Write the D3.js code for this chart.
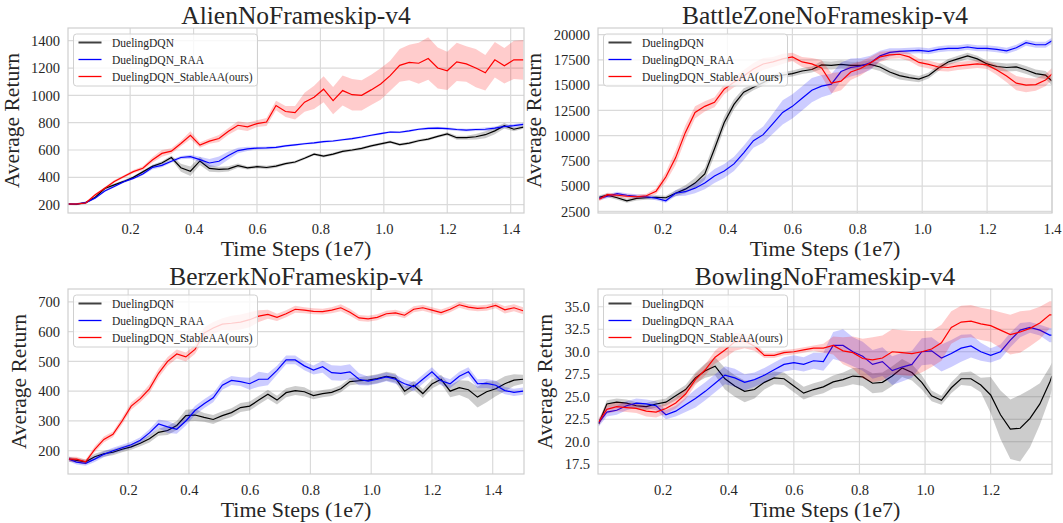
<!DOCTYPE html>
<html>
<head>
<meta charset="utf-8">
<script src="https://d3js.org/d3.v7.min.js"></script>
<style>
    body { margin: 0; background: #fff; }
    text { font-family: "Liberation Serif", "Times New Roman", serif; fill: #262626; }
    .grid line { stroke: #dadada; stroke-width: 1.2; }
    .frame { fill: none; stroke: #cfcfcf; stroke-width: 1.2; }
</style>
</head>
<body>
<script>
var width = 1063, height = 523;

var methods = ["DuelingDQN", "DuelingDQN_RAA", "DuelingDQN_StableAA(ours)"];
var colors = ["#000000", "#0000ff", "#ff0000"];

// ---- Alien ----
var alienSteps = [0.005,0.03,0.06,0.09,0.12,0.15,0.18,0.21,0.24,0.27,0.30,0.33,0.36,0.39,0.42,0.45,0.48,0.51,0.54,0.57,0.60,0.63,0.66,0.69,0.72,0.75,0.78,0.81,0.84,0.87,0.90,0.93,0.96,0.99,1.02,1.05,1.08,1.11,1.14,1.17,1.20,1.23,1.26,1.29,1.32,1.35,1.38,1.41,1.44];
var alienDQN = [205,203,215,255,318,345,370,400,440,480,505,545,470,445,520,465,458,462,486,470,478,472,482,500,512,540,570,555,570,590,600,612,630,645,660,640,650,668,680,700,718,690,690,697,712,740,778,752,768];
var alienDQNBand = [8,8,8,10,10,10,10,10,10,12,12,15,30,35,30,25,20,20,15,12,12,12,12,10,10,10,10,10,10,10,10,10,10,10,10,10,10,10,10,10,12,15,15,20,25,25,20,15,12];
var alienRAA = [205,205,215,248,300,333,368,392,425,472,488,518,545,551,530,505,518,560,596,608,614,616,620,630,638,646,652,661,666,675,684,695,708,720,732,730,740,752,758,760,757,750,745,750,752,760,772,778,788];
var alienRAABand = [6,6,6,8,8,8,8,8,10,15,15,12,12,15,20,30,35,30,20,15,10,10,10,8,8,8,8,8,8,8,8,8,8,8,8,8,8,8,10,10,10,10,10,10,12,12,12,12,12];
var alienStable = [205,205,212,273,321,370,406,442,466,527,575,592,648,708,636,665,684,737,781,769,793,805,926,882,873,950,986,1045,962,1035,1005,1000,1040,1083,1144,1220,1241,1235,1270,1200,1180,1245,1230,1200,1165,1260,1216,1260,1260];
var alienStableBand = [8,8,8,8,8,10,10,12,15,20,25,20,20,30,20,20,25,25,30,30,25,30,35,40,50,70,85,95,100,110,115,110,110,115,110,120,130,150,155,150,140,140,130,140,130,130,130,140,145];
var alienYTicks = [200,400,600,800,1000,1200,1400];

// ---- BattleZone ----
var battleSteps = [0.005,0.03,0.06,0.09,0.12,0.15,0.18,0.21,0.24,0.27,0.30,0.33,0.36,0.39,0.42,0.45,0.48,0.51,0.54,0.57,0.60,0.63,0.66,0.69,0.72,0.75,0.78,0.81,0.84,0.87,0.90,0.93,0.96,0.99,1.02,1.05,1.08,1.11,1.14,1.17,1.20,1.23,1.26,1.29,1.32,1.35,1.38,1.40];
var battleDQN = [3900,4100,3850,3550,3780,3850,3900,3850,4300,4700,5300,6200,8700,11300,13100,14300,14800,15250,15750,16000,16150,16400,16550,17000,16950,17050,16950,16950,17050,16800,16300,15950,15750,15600,15950,16700,17300,17600,17900,17600,17100,16850,16750,16800,16500,16150,16000,15400];
var battleDQNBand = [200,200,200,200,200,200,200,200,300,400,500,600,700,600,500,400,300,300,300,300,300,300,300,400,400,400,400,400,400,400,400,400,350,300,300,300,300,300,300,300,300,400,400,400,400,400,400,400];
var battleRAA = [3800,4000,4250,4100,4000,3950,3800,3550,4300,4450,4800,5300,6000,6500,7200,8300,9500,10100,11200,12300,12900,13700,14500,14900,15100,16350,16750,16900,17200,17900,18250,18350,18400,18450,18350,18550,18650,18650,18780,18650,18650,18550,18400,18700,19200,19000,19000,19400];
var battleRAABand = [200,200,200,200,200,200,200,200,300,400,500,600,700,700,700,700,700,800,1000,1200,1200,1200,1200,1100,1000,900,900,800,700,500,400,300,300,300,300,300,300,300,300,300,300,300,300,300,300,300,300,300];
var battleStable = [3700,4150,4100,4000,3950,4050,4500,5900,7800,10300,12300,12900,13300,14600,15300,15900,16600,17100,17300,17600,17800,17300,17100,16700,15200,15400,16300,16650,17200,17800,18000,18060,17800,17250,17050,16800,16750,16900,17000,17100,17000,16500,15900,15200,15000,15050,15500,16100];
var battleStableBand = [200,200,200,200,200,200,300,500,700,700,600,500,500,500,500,600,600,600,500,500,400,500,600,800,1000,900,800,700,600,500,400,400,400,400,400,400,400,400,400,400,400,500,600,700,700,600,600,600];
var battleYTicks = [2500,5000,7500,10000,12500,15000,17500,20000];

// ---- Berzerk ----
var berzerkSteps = [0.005,0.03,0.06,0.09,0.12,0.15,0.18,0.21,0.24,0.27,0.30,0.33,0.36,0.39,0.42,0.45,0.48,0.51,0.54,0.57,0.60,0.63,0.66,0.69,0.72,0.75,0.78,0.81,0.84,0.87,0.90,0.93,0.96,0.99,1.02,1.05,1.08,1.11,1.14,1.17,1.20,1.23,1.26,1.29,1.32,1.35,1.38,1.41,1.44,1.47,1.50];
var berzerkDQN = [172,168,163,180,190,195,205,213,225,240,262,268,285,318,320,312,305,318,328,345,350,370,390,370,395,402,398,385,392,396,408,432,435,437,442,450,444,400,420,392,424,440,400,412,405,380,398,408,425,437,440];
var berzerkDQNBand = [8,8,8,10,10,10,10,10,10,12,12,15,15,20,20,15,15,15,15,15,15,15,15,15,15,15,15,12,12,12,12,12,12,15,15,15,15,15,15,15,15,15,20,25,30,35,35,25,25,20,15];
var berzerkRAA = [172,162,158,172,188,200,210,220,235,260,290,280,272,300,335,358,378,420,436,432,425,440,440,470,505,505,485,471,482,462,460,465,440,434,440,448,440,425,415,440,465,435,425,450,465,425,426,420,402,396,400];
var berzerkRAABand = [8,8,8,10,10,10,10,10,10,12,15,20,15,15,15,15,15,15,15,15,20,25,20,15,15,15,15,15,20,25,25,25,20,15,15,15,15,15,15,15,15,15,15,15,15,15,15,15,12,12,12];
var berzerkStable = [172,172,163,205,238,255,300,350,375,408,460,500,525,515,540,595,612,625,628,632,640,652,658,648,660,675,672,668,667,672,680,665,646,643,648,660,663,655,675,680,672,664,675,690,682,678,680,688,673,680,670];
var berzerkStableBand = [8,8,8,10,10,10,12,12,12,15,15,15,15,15,15,20,20,20,25,25,25,20,15,12,12,12,10,10,10,10,12,12,10,10,10,10,10,10,10,10,10,10,10,10,10,10,10,10,12,12,12];
var berzerkYTicks = [200,300,400,500,600,700];

// ---- Bowling ----
var bowlingSteps = [0.005,0.03,0.06,0.09,0.12,0.15,0.18,0.21,0.24,0.27,0.30,0.33,0.36,0.39,0.42,0.45,0.48,0.51,0.54,0.57,0.60,0.63,0.66,0.69,0.72,0.75,0.78,0.81,0.84,0.87,0.90,0.93,0.96,0.99,1.02,1.05,1.08,1.11,1.14,1.17,1.20,1.23,1.26,1.29,1.32,1.35,1.38,1.387];
var bowlingDQN = [22.0,24.2,24.4,24.3,24.0,23.9,24.2,24.4,25.1,25.8,27.1,27.9,28.4,27.0,26.2,25.6,25.8,26.6,27.1,27.0,26.2,25.4,25.8,26.1,26.65,26.9,27.3,27.2,26.5,26.6,27.3,28.2,27.7,26.6,25.1,24.6,26.0,27.0,27.0,26.3,25.2,23.0,21.4,21.5,22.6,24.2,26.6,27.3];
var bowlingDQNBand = [0.3,0.4,0.4,0.4,0.4,0.4,0.4,0.4,0.5,0.5,0.6,0.8,1.0,1.2,1.2,1.2,1.0,0.8,0.7,0.7,0.7,0.7,0.7,0.7,0.7,0.8,0.9,1.0,1.1,1.1,1.1,1.0,0.9,0.8,0.6,0.5,0.6,0.7,0.8,0.8,2.0,2.7,3.3,3.7,3.2,2.3,1.7,1.5];
var bowlingRAA = [22.1,23.3,23.5,24.0,24.3,24.2,24.0,23.0,23.4,24.1,24.8,25.6,26.5,27.4,27.1,26.6,26.9,27.4,28.0,28.6,28.8,28.6,29.0,28.9,30.7,30.7,30.0,29.5,28.6,28.9,27.9,28.3,28.6,30.0,30.1,29.3,29.8,30.4,30.65,30.0,29.6,30.0,31.3,32.4,32.7,32.4,31.85,31.85];
var bowlingRAABand = [0.4,0.5,0.5,0.5,0.5,0.5,0.5,0.5,0.6,0.8,1.0,1.0,1.0,1.0,1.0,0.9,0.8,0.8,0.8,0.8,0.8,0.8,0.9,1.0,1.5,1.8,1.6,1.6,1.6,1.6,1.6,1.6,1.5,1.5,1.5,1.5,1.5,1.5,1.3,1.0,0.8,0.8,0.8,0.8,0.6,0.6,0.8,0.8];
var bowlingStable = [22.2,23.6,23.9,23.8,23.7,23.4,23.3,23.7,24.3,25.3,26.9,28.0,29.4,30.2,31.1,31.2,30.6,29.6,29.6,29.9,30.0,30.2,30.4,30.4,30.7,30.1,29.9,29.25,29.1,29.3,30.0,29.9,29.8,30.0,30.3,31.0,32.7,33.3,33.4,33.1,32.9,32.4,31.9,32.2,32.6,33.2,34.1,34.1];
var bowlingStableBand = [0.4,0.5,0.5,0.5,0.5,0.6,0.6,0.6,0.6,0.6,0.6,0.6,0.7,0.9,1.0,0.8,0.5,0.3,0.3,0.3,0.3,0.3,0.3,0.5,1.0,1.5,1.8,2.2,2.5,2.5,2.5,2.5,2.5,2.3,2.0,2.0,1.8,1.8,1.8,1.8,1.8,2.0,2.2,2.3,2.0,1.8,1.5,1.5];
var bowlingYTicks = [17.5,20.0,22.5,25.0,27.5,30.0,32.5,35.0];

var xTicksLong = [0.2,0.4,0.6,0.8,1.0,1.2,1.4];
var xTicksShort = [0.2,0.4,0.6,0.8,1.0,1.2];

var panels = [
    {title: "AlienNoFrameskip-v4", steps: alienSteps,
     means: [alienDQN, alienRAA, alienStable], bands: [alienDQNBand, alienRAABand, alienStableBand],
     xDomain: [0.004, 1.442], yDomain: [139, 1493], xTicks: xTicksLong, yTicks: alienYTicks, yFmt: "d",
     box: {x: 68, y: 28, w: 456, h: 185}},
    {title: "BattleZoneNoFrameskip-v4", steps: battleSteps,
     means: [battleDQN, battleRAA, battleStable], bands: [battleDQNBand, battleRAABand, battleStableBand],
     xDomain: [0.001, 1.40], yDomain: [2340, 20660], xTicks: xTicksLong, yTicks: battleYTicks, yFmt: "d",
     box: {x: 598, y: 28, w: 454, h: 185}},
    {title: "BerzerkNoFrameskip-v4", steps: berzerkSteps,
     means: [berzerkDQN, berzerkRAA, berzerkStable], bands: [berzerkDQNBand, berzerkRAABand, berzerkStableBand],
     xDomain: [0.002, 1.503], yDomain: [122, 743], xTicks: xTicksLong, yTicks: berzerkYTicks, yFmt: "d",
     box: {x: 68, y: 289, w: 456, h: 185}},
    {title: "BowlingNoFrameskip-v4", steps: bowlingSteps,
     means: [bowlingDQN, bowlingRAA, bowlingStable], bands: [bowlingDQNBand, bowlingRAABand, bowlingStableBand],
     xDomain: [0.003, 1.387], yDomain: [16.42, 36.97], xTicks: xTicksShort, yTicks: bowlingYTicks, yFmt: ".1f",
     box: {x: 598, y: 289, w: 454, h: 185}}
];

var svg = d3.select("body").append("svg")
    .attr("width", width)
    .attr("height", height);

panels.forEach(function(p, pi) {
    var b = p.box;
    var g = svg.append("g").attr("transform", "translate(" + b.x + "," + b.y + ")");

    var x = d3.scaleLinear().domain(p.xDomain).range([0, b.w]);
    var y = d3.scaleLinear().domain(p.yDomain).range([b.h, 0]);

    g.append("clipPath").attr("id", "clip" + pi)
        .append("rect").attr("width", b.w).attr("height", b.h);

    // grid
    var grid = g.append("g").attr("class", "grid");
    grid.selectAll(".gx").data(p.xTicks).enter().append("line")
        .attr("x1", function(d) { return x(d); }).attr("x2", function(d) { return x(d); })
        .attr("y1", 0).attr("y2", b.h);
    grid.selectAll(".gy").data(p.yTicks).enter().append("line")
        .attr("y1", function(d) { return y(d); }).attr("y2", function(d) { return y(d); })
        .attr("x1", 0).attr("x2", b.w);

    // axes
    var xAxis = g.append("g").attr("transform", "translate(0," + b.h + ")")
        .call(d3.axisBottom(x).tickValues(p.xTicks).tickFormat(d3.format(".1f")).tickSize(0).tickPadding(11));
    var yAxis = g.append("g")
        .call(d3.axisLeft(y).tickValues(p.yTicks).tickFormat(d3.format(p.yFmt)).tickSize(0).tickPadding(8));
    [xAxis, yAxis].forEach(function(a) {
        a.select(".domain").remove();
        a.selectAll("text").style("font-size", "14.5px").style("font-family", "Liberation Serif").attr("fill", "#262626");
    });

    // bands and lines
    var plot = g.append("g").attr("clip-path", "url(#clip" + pi + ")");
    methods.forEach(function(m, k) {
        var rows = p.steps.map(function(s, i) {
            return {x: s, m: p.means[k][i], lo: p.means[k][i] - p.bands[k][i], hi: p.means[k][i] + p.bands[k][i]};
        });
        plot.append("path").datum(rows)
            .attr("fill", colors[k]).attr("fill-opacity", 0.2).attr("stroke", "none")
            .attr("d", d3.area().x(function(d) { return x(d.x); })
                .y0(function(d) { return y(d.lo); }).y1(function(d) { return y(d.hi); }));
        plot.append("path").datum(rows)
            .attr("fill", "none").attr("stroke", colors[k]).attr("stroke-width", 1.2)
            .attr("d", d3.line().x(function(d) { return x(d.x); }).y(function(d) { return y(d.m); }));
    });

    g.append("rect").attr("class", "frame").attr("width", b.w).attr("height", b.h);

    // titles
    g.append("text").attr("x", b.w / 2).attr("y", -4).attr("text-anchor", "middle")
        .style("font-size", "25.5px").text(p.title);
    g.append("text").attr("x", b.w / 2).attr("y", b.h + 43).attr("text-anchor", "middle")
        .style("font-size", "22px").text("Time Steps (1e7)");
    var tickW = yAxis.node().getBBox().width;
    g.append("text").attr("transform", "translate(" + (-tickW - 20) + "," + (b.h / 2) + ") rotate(-90)")
        .attr("text-anchor", "middle").attr("dy", "0.35em")
        .style("font-size", "21.5px").text("Average Return");

    // legend
    var lg = g.append("g").attr("transform", "translate(5.5,6)");
    lg.append("rect").attr("width", 184).attr("height", 52).attr("rx", 3)
        .attr("fill", "#fff").attr("fill-opacity", 0.8).attr("stroke", "#d0d0d0");
    methods.forEach(function(m, k) {
        var yy = 8.5 + k * 17;
        lg.append("line").attr("x1", 5).attr("x2", 28).attr("y1", yy).attr("y2", yy)
            .attr("stroke", colors[k]).attr("stroke-width", k === 0 ? 2 : 1.3)
            .attr("stroke-opacity", k === 0 ? 0.75 : 1);
        lg.append("text").attr("x", 38.5).attr("y", yy).attr("dy", "0.35em")
            .style("font-size", "11.5px").text(m);
    });
});
</script>
</body>
</html>
